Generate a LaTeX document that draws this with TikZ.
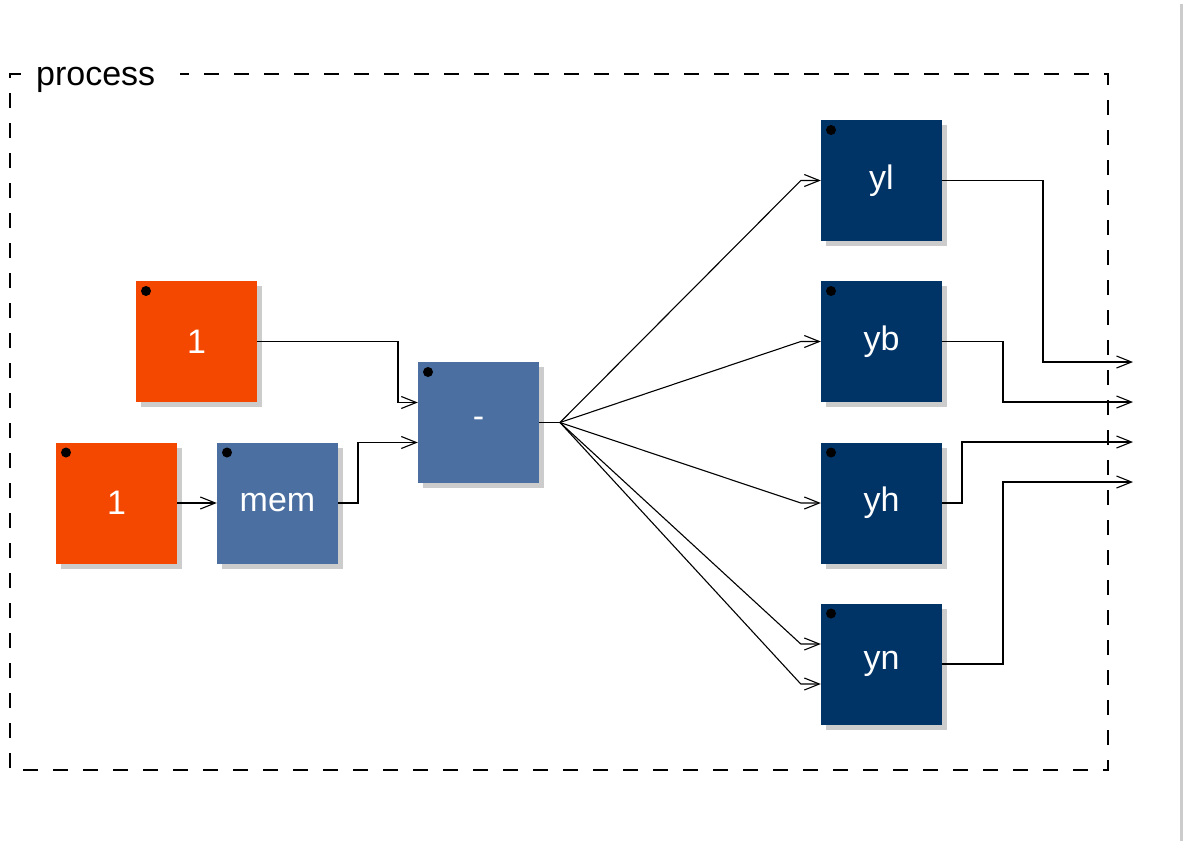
\documentclass[tikz,border=0pt]{standalone}
\usepackage{fontspec}
\setmainfont{Liberation Sans}
\usetikzlibrary{arrows.meta,shadows}
\definecolor{numorange}{HTML}{F44800}
\definecolor{opblue}{HTML}{4B6FA0}
\definecolor{outnavy}{HTML}{003366}
\definecolor{shadowgray}{HTML}{CCCCCC}

\begin{document}
\begin{tikzpicture}[x=1pt,y=-1pt,
  blk/.style={minimum width=121pt, minimum height=121pt, inner sep=0pt, text=white,
    font=\fontsize{34}{40}\selectfont,
    drop shadow={shadow xshift=5pt, shadow yshift=-5pt, fill=shadowgray, opacity=1},
    path picture={\fill[black] ([xshift=10pt,yshift=-10pt]path picture bounding box.north west) circle (5pt);}},
  numblk/.style={blk, fill=numorange},
  opblk/.style={blk, fill=opblue},
  outblk/.style={blk, fill=outnavy},
  wire/.style={line width=1.1pt, black},
  arr/.style={wire, -{Straight Barb[length=15pt,width=12pt,line width=1.1pt]}},
  grp/.style={line width=1.1pt, dash pattern=on 15pt off 15pt}
]
\useasboundingbox (0,0) rectangle (1183,841);
\fill[shadowgray] (1180,4) rectangle (1183,841);

% group frame with its title
\node[anchor=base west, inner sep=0pt, font=\fontsize{34}{40}\selectfont] (title) at (36,85) {process};
\draw[grp] (21,74) -- (10,74) -- (10,770) -- (1108,770) -- (1108,74) -- (180,74);

% blocks
\node[numblk] (oneA) at (196.5,341.5) {1};
\node[numblk] (oneB) at (116.5,503) {1};
\node[opblk]  (mem)  at (277.5,503) {mem};
\node[opblk]  (sub)  at (478.5,422.5) {-};
\node[outblk] (yl)   at (881.5,180.5) {yl};
\node[outblk] (yb)   at (881.5,341.5) {yb};
\node[outblk] (yh)   at (881.5,503) {yh};
\node[outblk] (yn)   at (881.5,664) {yn};

% free ends of the outputs
\coordinate (out1) at (1133,362);
\coordinate (out2) at (1133,402);
\coordinate (out3) at (1133,442);
\coordinate (out4) at (1133,482);
\coordinate (fan) at (560,422.5);

% wires into the subtraction
\draw[arr] (oneB.east) -- (mem.west);
\draw[arr] (oneA.east) -- (398,341.5) |- ([yshift=20pt]sub.west);
\draw[arr] (mem.east) -- (358,503) |- ([yshift=-20pt]sub.west);

% fan-out to the four outputs
\draw[wire] (sub.east) -- (fan);
\draw[arr] (fan) -- ([xshift=-20pt]yl.west) -- (yl.west);
\draw[arr] (fan) -- ([xshift=-20pt]yb.west) -- (yb.west);
\draw[arr] (fan) -- ([xshift=-20pt]yh.west) -- (yh.west);
\draw[arr] (fan) -- ([xshift=-20pt,yshift=20pt]yn.west) -- ([yshift=20pt]yn.west);
\draw[arr] (fan) -- ([xshift=-20pt,yshift=-20pt]yn.west) -- ([yshift=-20pt]yn.west);

% outputs leaving the group
\draw[arr] (yl.east) -- (1043,180.5) |- (out1);
\draw[arr] (yb.east) -- (1003,341.5) |- (out2);
\draw[arr] (yh.east) -- (962,503) |- (out3);
\draw[arr] (yn.east) -- (1003,664) |- (out4);
\end{tikzpicture}
\end{document}
